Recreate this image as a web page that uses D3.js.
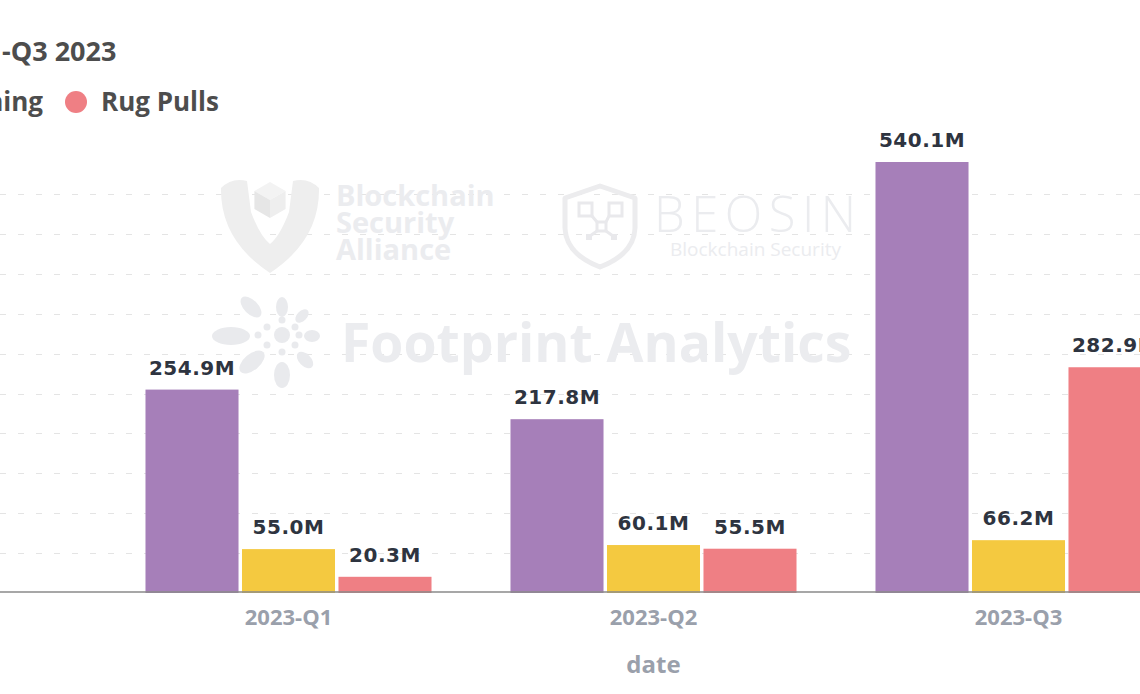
<!DOCTYPE html>
<html>
<head>
<meta charset="utf-8">
<script src="https://cdn.jsdelivr.net/npm/d3@7"></script>
<style>
  html, body { margin: 0; padding: 0; background: #fff; overflow: hidden; }
  svg { display: block; }
</style>
</head>
<body>
<svg id="chart" width="1140" height="694"></svg>
<script>
// ---- data ----
const categories = ["2023-Q1", "2023-Q2", "2023-Q3"];
const seriesNames = ["Hacks", "Phishing", "Rug Pulls"];
const seriesColors = ["#a67fb9", "#f4c940", "#ef7f84"];
const hacks = [254.9, 217.8, 540.1];
const phishing = [55.0, 60.1, 66.2];
const rugPulls = [20.3, 55.5, 282.9];
const yTicks = [0, 50, 100, 150, 200, 250, 300, 350, 400, 450, 500];
const titleText = "-Q3 2023";
const axisTitle = "date";

const seriesValues = [hacks, phishing, rugPulls];

(function () {
const W = 1140, H = 694;
const svg = d3.select("#chart");
svg.append("rect").attr("width", W).attr("height", H).attr("fill", "#fff");

// scales
const x0 = d3.scaleBand().domain(categories).range([106, 1201])
  .paddingInner(0.2164).paddingOuter(0.1082);
const x1 = d3.scaleBand().domain(seriesNames).range([0, x0.bandwidth()])
  .paddingInner(0.036).paddingOuter(0);
const y = d3.scaleLinear().domain([0, 500]).range([593, 194]);
const color = d3.scaleOrdinal().domain(seriesNames).range(seriesColors);

// gridlines
svg.append("g").selectAll("line").data(yTicks.slice(1)).join("line")
  .attr("x1", 0).attr("x2", W)
  .attr("y1", d => Math.round(y(d)) + 0.5).attr("y2", d => Math.round(y(d)) + 0.5)
  .attr("stroke", "#e4e4e4").attr("stroke-width", 1)
  .attr("stroke-dasharray", "6,12");

// ---- watermarks (decoration) ----
const wm = svg.append("g");
const wmFill = "#ebecef";
// Blockchain Security Alliance shield
wm.append("path")
  .attr("d", "M221,188 Q232,177 247,181 L251,212 Q260,236 270,244 Q280,236 289,212 L293,181 Q308,177 319,188 Q320,240 270,273 Q220,240 221,188 Z")
  .attr("fill", "#eeeeee");
// cube
const cx = 270, cy = 200, cs = 18;
const hex = (a) => [cx + cs * Math.cos(a), cy + cs * Math.sin(a)];
const faceTop = [hex(-Math.PI/2), hex(-Math.PI/6), [cx, cy], hex(-5*Math.PI/6)];
const faceLeft = [hex(-5*Math.PI/6), [cx, cy], hex(Math.PI/2), hex(5*Math.PI/6)];
const faceRight = [[cx, cy], hex(-Math.PI/6), hex(Math.PI/6), hex(Math.PI/2)];
const poly = p => "M" + p.map(q => q.join(",")).join("L") + "Z";
wm.append("path").attr("d", poly(faceTop)).attr("fill", "#f3f3f3");
wm.append("path").attr("d", poly(faceLeft)).attr("fill", "#e6e6e6");
wm.append("path").attr("d", poly(faceRight)).attr("fill", "#eeeeee");
const bsa = ["Blockchain", "Security", "Alliance"];
wm.append("g").selectAll("text").data(bsa).join("text")
  .attr("x", 336).attr("y", (d, i) => 206 + i * 27)
  .attr("font-family", "Open Sans, sans-serif").attr("font-weight", 700)
  .attr("font-size", 29).attr("fill", wmFill).text(d => d);

// BEOSIN shield
wm.append("path")
  .attr("d", "M600,186 L635,198 L635,228 Q634,254 600,267 Q566,254 565,228 L565,198 Z")
  .attr("fill", "none").attr("stroke", "#ececee").attr("stroke-width", 5).attr("stroke-linejoin", "round");
const bg = wm.append("g").attr("fill", "none").attr("stroke", "#e9e9ec").attr("stroke-width", 3);
bg.append("rect").attr("x", 579).attr("y", 203).attr("width", 13).attr("height", 13);
bg.append("rect").attr("x", 609).attr("y", 203).attr("width", 13).attr("height", 13);
bg.append("rect").attr("x", 597).attr("y", 222).attr("width", 9).attr("height", 9);
bg.append("path").attr("d", "M592,216 L597,222 M609,216 L606,222 M597,231 L590,236 M606,231 L613,236");
wm.append("rect").attr("x", 586).attr("y", 234).attr("width", 6).attr("height", 6).attr("fill", "#e9e9ec");
wm.append("rect").attr("x", 611).attr("y", 234).attr("width", 6).attr("height", 6).attr("fill", "#e9e9ec");
wm.append("text").attr("x", 654).attr("y", 232)
  .attr("font-family", "Open Sans, sans-serif").attr("font-weight", 300)
  .attr("font-size", 49).attr("letter-spacing", 6.5).attr("fill", wmFill).text("BEOSIN");
wm.append("text").attr("x", 670).attr("y", 256)
  .attr("font-family", "Open Sans, sans-serif").attr("font-weight", 400)
  .attr("font-size", 19).attr("fill", wmFill).text("Blockchain Security");

// Footprint sunburst
const sun = wm.append("g").attr("fill", "#e9eaed");
sun.append("circle").attr("cx", 282).attr("cy", 335).attr("r", 8);
const petals = [
  [231, 336, 19, 9, 0], [282, 307, 6, 10, 0], [282, 375, 8, 13, 0],
  [251, 307, 13, 7, 45], [252, 362, 15, 8, -40], [302, 316, 8, 5, -45],
  [312, 336, 8, 6, 0], [305, 360, 10, 6, 45]
];
sun.selectAll("ellipse").data(petals).join("ellipse")
  .attr("cx", 0).attr("cy", 0).attr("rx", d => d[2]).attr("ry", d => d[3])
  .attr("transform", d => `translate(${d[0]},${d[1]}) rotate(${d[4]})`);
const dots = [[267,327],[282,320],[295,327],[299,335],[295,345],[282,352],[267,345],[258,335]];
sun.selectAll("circle.d").data(dots).join("circle").attr("class", "d")
  .attr("cx", d => d[0]).attr("cy", d => d[1]).attr("r", 3.5);
wm.append("text").attr("x", 341).attr("y", 362)
  .attr("font-family", "Open Sans, sans-serif").attr("font-weight", 700)
  .attr("font-size", 53.5).attr("fill", wmFill).text("Footprint Analytics");

// ---- bars ----
const rows = categories.map((c, i) => ({
  cat: c,
  vals: seriesNames.map((s, j) => ({ s, v: seriesValues[j][i] }))
}));
const groups = svg.append("g").selectAll("g").data(rows).join("g")
  .attr("transform", d => `translate(${x0(d.cat)},0)`);
groups.selectAll("rect").data(d => d.vals).join("rect")
  .attr("x", d => x1(d.s)).attr("width", x1.bandwidth())
  .attr("y", d => y(d.v)).attr("height", d => y(0) - y(d.v))
  .attr("fill", d => color(d.s));
groups.selectAll("text").data(d => d.vals).join("text")
  .attr("x", d => x1(d.s) + x1.bandwidth() / 2).attr("y", d => y(d.v) - 15)
  .attr("text-anchor", "middle")
  .attr("font-family", "DejaVu Sans, Verdana, sans-serif").attr("font-weight", 700)
  .attr("font-size", 20).attr("letter-spacing", 0.5).attr("fill", "#2e3440")
  .text(d => d.v.toFixed(1) + "M");

// ---- x axis ----
const xAxis = d3.axisBottom(x0).tickSize(0).tickPadding(0);
const gx = svg.append("g").attr("transform", "translate(0,592)").call(xAxis);
gx.select(".domain").remove();
gx.append("line").attr("x1", 0).attr("x2", W).attr("y1", 0).attr("y2", 0)
  .attr("stroke", "#8a8a8a").attr("stroke-width", 1.6);
gx.selectAll(".tick text")
  .attr("dy", 0).attr("y", 33)
  .attr("font-family", "Open Sans, sans-serif").attr("font-weight", 700)
  .attr("font-size", 22).attr("fill", "#9aa0ab");
svg.append("text").attr("x", (x0.range()[0] + x0.range()[1]) / 2).attr("y", 673)
  .attr("text-anchor", "middle")
  .attr("font-family", "Open Sans, sans-serif").attr("font-weight", 700)
  .attr("font-size", 24).attr("fill", "#9aa0ab").text(axisTitle);

// ---- title & legend ----
svg.append("text").attr("x", 2).attr("y", 61)
  .attr("font-family", "Open Sans, sans-serif").attr("font-weight", 700)
  .attr("font-size", 27).attr("fill", "#4d4d4d").text(titleText);

const legend = svg.append("g");
legend.append("text").attr("x", 43).attr("y", 111).attr("text-anchor", "end")
  .attr("font-family", "Open Sans, sans-serif").attr("font-weight", 700)
  .attr("font-size", 26).attr("fill", "#4d4d4d").text(seriesNames[1]);
legend.append("circle").attr("cx", 76).attr("cy", 102).attr("r", 11)
  .attr("fill", color(seriesNames[2]));
legend.append("text").attr("x", 101).attr("y", 111)
  .attr("font-family", "Open Sans, sans-serif").attr("font-weight", 700)
  .attr("font-size", 26).attr("fill", "#4d4d4d").text(seriesNames[2]);
})();
</script>
</body>
</html>
